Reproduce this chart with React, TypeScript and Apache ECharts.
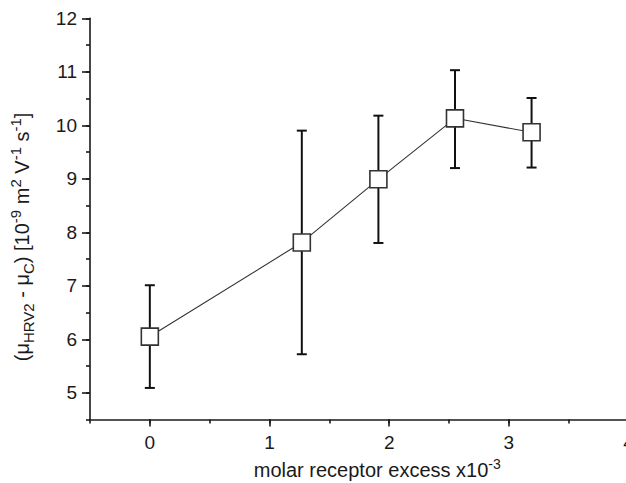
import React, { useEffect, useRef } from "react";
import * as echarts from "echarts";

const xValues = [0, 1.27, 1.91, 2.55, 3.19];
const yValues = [6.05, 7.81, 8.99, 10.13, 9.87];
const yLow = [5.09, 5.72, 7.8, 9.2, 9.21];
const yHigh = [7.01, 9.9, 10.18, 11.03, 10.51];
const xTickLabels = [0, 1, 2, 3, 4];
const yTickLabels = [5, 6, 7, 8, 9, 10, 11, 12];

const FONT = "'Liberation Sans', Arial, sans-serif";
const INK = "#1a1a1a";

export default function App() {
  const ref = useRef<HTMLDivElement>(null);
  useEffect(() => {
    if (!ref.current) return;
    const chart = echarts.init(ref.current, undefined, { renderer: "svg" });
    const gridBox = {
      left: 90,
      top: 18.3,
      width: 538.5,
      height: 401.2,
      containLabel: false,
      outerBoundsMode: "none",
    };
    const lineData = xValues.map((x, i) => [x, yValues[i]]);
    const errData = xValues.map((x, i) => [x, yLow[i], yHigh[i]]);
    chart.setOption({
      animation: false,
      backgroundColor: "#ffffff",
      textStyle: { fontFamily: FONT },
      grid: [gridBox, { ...gridBox }],
      xAxis: [
        {
          type: "value",
          gridIndex: 0,
          min: -0.5,
          max: 4,
          axisLine: { show: true, onZero: false, lineStyle: { color: INK, width: 1.6 } },
          axisTick: { show: true, customValues: xTickLabels, length: 7, lineStyle: { color: INK, width: 1.6 } },
          axisLabel: { customValues: xTickLabels, fontSize: 19, color: INK, margin: 13, fontFamily: FONT },
          splitLine: { show: false },
          name: "{m|molar receptor excess x10}{sup|-3}",
          nameLocation: "middle",
          nameGap: 37,
          nameTextStyle: {
            padding: [0, 0, 0, 36],
            rich: {
              m: { fontSize: 20, lineHeight: 26, color: INK, fontFamily: FONT },
              sup: { fontSize: 14, lineHeight: 16, verticalAlign: "top", color: INK, fontFamily: FONT },
            },
          },
        },
        {
          type: "value",
          gridIndex: 1,
          min: -0.5,
          max: 4,
          interval: 0.5,
          axisLine: { show: false, onZero: false },
          axisTick: { show: true, length: 4, lineStyle: { color: INK, width: 1.6 } },
          axisLabel: { show: false },
          splitLine: { show: false },
        },
      ],
      yAxis: [
        {
          type: "value",
          gridIndex: 0,
          min: 4.5,
          max: 12,
          axisLine: { show: true, onZero: false, lineStyle: { color: INK, width: 1.6 } },
          axisTick: { show: true, customValues: yTickLabels, length: 8, lineStyle: { color: INK, width: 1.6 } },
          axisLabel: { customValues: yTickLabels, fontSize: 19, color: INK, margin: 13, fontFamily: FONT },
          splitLine: { show: false },
          name: "{m|(μ}{sub|HRV2}{m| - μ}{sub|C}{m|) [10}{sup|-9}{m| m}{sup|2}{m| V}{sup|-1}{m| s}{sup|-1}{m|]}",
          nameLocation: "middle",
          nameRotate: 90,
          nameGap: 54,
          nameTextStyle: {
            padding: [0, 36, 0, 0],
            rich: {
              m: { fontSize: 20, lineHeight: 28, color: INK, fontFamily: FONT },
              sub: { fontSize: 15, lineHeight: 15, verticalAlign: "bottom", color: INK, fontFamily: FONT },
              sup: { fontSize: 15, lineHeight: 15, verticalAlign: "top", color: INK, fontFamily: FONT },
            },
          },
        },
        {
          type: "value",
          gridIndex: 1,
          min: 4.5,
          max: 12,
          interval: 0.5,
          axisLine: { show: false, onZero: false },
          axisTick: { show: true, length: 4, lineStyle: { color: INK, width: 1.6 } },
          axisLabel: { show: false },
          splitLine: { show: false },
        },
      ],
      series: [
        {
          type: "custom",
          xAxisIndex: 0,
          yAxisIndex: 0,
          z: 2,
          data: errData,
          renderItem: (params: any, api: any) => {
            const x = api.value(0);
            const lo = api.value(1);
            const hi = api.value(2);
            const top = api.coord([x, hi]);
            const bot = api.coord([x, lo]);
            const hw = 5;
            const style = { stroke: "#111", lineWidth: 2 };
            return {
              type: "group",
              children: [
                { type: "line", shape: { x1: top[0], y1: top[1], x2: bot[0], y2: bot[1] }, style },
                { type: "line", shape: { x1: top[0] - hw, y1: top[1], x2: top[0] + hw, y2: top[1] }, style },
                { type: "line", shape: { x1: bot[0] - hw, y1: bot[1], x2: bot[0] + hw, y2: bot[1] }, style },
              ],
            };
          },
        },
        {
          type: "line",
          xAxisIndex: 0,
          yAxisIndex: 0,
          z: 5,
          data: lineData,
          symbol: "rect",
          symbolSize: 17,
          lineStyle: { color: "#333", width: 1.1 },
          itemStyle: { color: "#ffffff", borderColor: "#333", borderWidth: 1.6 },
        },
      ],
    });
    return () => chart.dispose();
  }, []);
  return (
    <div
      ref={ref}
      style={{ position: "fixed", left: 0, top: 0, width: 626, height: 483, background: "#fff" }}
    />
  );
}
